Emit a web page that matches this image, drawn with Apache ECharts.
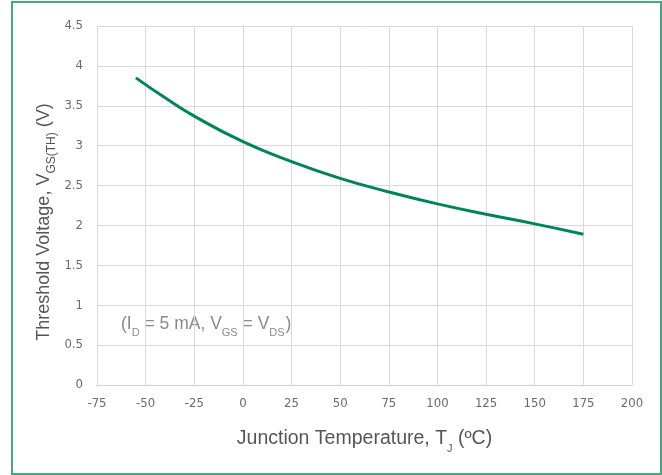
<!DOCTYPE html>
<html><head><meta charset="utf-8">
<script src="https://cdn.jsdelivr.net/npm/echarts@6/dist/echarts.min.js"></script>
<style>
html,body{margin:0;padding:0;background:#fff;}
#frame{position:absolute;left:11px;top:1px;width:647px;height:470px;border:2px solid #45a97c;}
#c{position:absolute;left:0;top:0;width:662px;height:475px;}
</style></head><body>
<div id="frame"></div>
<div id="c"></div>
<script>
const temps = [-55, -40, -25, 0, 25, 50, 75, 100, 125, 150, 175];
const vth = [3.85, 3.60, 3.37, 3.05, 2.80, 2.59, 2.42, 2.27, 2.14, 2.02, 1.89];
const xTicks = {min: -75, max: 200, interval: 25};
const yTicks = {min: 0, max: 4.5, interval: 0.5};

const chart = echarts.init(document.getElementById('c'));
const tickFont = 'DejaVu Sans Condensed, Liberation Sans Narrow, Roboto, sans-serif';
const nameFont = 'Liberation Sans, Arial, sans-serif';
chart.setOption({
  animation: false,
  grid: {left: 97, right: 30, top: 26, bottom: 90},
  xAxis: {
    type: 'value', min: xTicks.min, max: xTicks.max, interval: xTicks.interval,
    axisLine: {show: true, lineStyle: {color: '#d0d0d0'}},
    axisTick: {show: false},
    splitLine: {show: true, lineStyle: {color: '#d9d9d9', width: 1}},
    axisLabel: {color: '#6a6a6a', fontSize: 13, fontFamily: tickFont, margin: 12},
    name: '{n|Junction Temperature, T}{s|J}{n| (ºC)}',
    nameLocation: 'middle', nameGap: 44,
    nameTextStyle: {
      rich: {
        n: {fontSize: 19.5, color: '#555', fontFamily: nameFont},
        s: {fontSize: 11, color: '#555', fontFamily: nameFont, verticalAlign: 'bottom', padding: [0,0,-5,0]}
      }
    }
  },
  yAxis: {
    type: 'value', min: yTicks.min, max: yTicks.max, interval: yTicks.interval,
    axisLine: {show: true, lineStyle: {color: '#d9d9d9'}},
    axisTick: {show: false},
    splitLine: {show: true, lineStyle: {color: '#d9d9d9', width: 1}},
    axisLabel: {color: '#6a6a6a', fontSize: 13, fontFamily: tickFont, margin: 14}
  },
  graphic: [{
    type: 'text', x: 44, y: 222, rotation: Math.PI / 2,
    style: {
      text: '{n|Threshold Voltage, V}{s|GS(TH)}{n| (V)}',
      align: 'center', verticalAlign: 'middle',
      rich: {
        n: {fontSize: 18, fill: '#555', fontFamily: nameFont},
        s: {fontSize: 12, fill: '#555', fontFamily: nameFont, verticalAlign: 'bottom', padding: [0,0,-5,0]}
      }
    }
  }, {
    type: 'text', left: 121, top: 315,
    style: {
      text: '{n|(I}{s|D}{n| = 5 mA, V}{s|GS}{n| = V}{s|DS}{p|)}',
      rich: {
        n: {fontSize: 17.5, fill: '#8a8a8a', fontFamily: nameFont},
        p: {fontSize: 17.5, fill: '#8a8a8a', fontFamily: nameFont, padding: [0,0,0,1]},
        s: {fontSize: 11, fill: '#8a8a8a', fontFamily: nameFont, verticalAlign: 'bottom', padding: [0,0,-5,0]}
      }
    }
  }],
  series: [{
    type: 'line', smooth: true, showSymbol: false,
    data: temps.map((t, i) => [t, vth[i]]),
    lineStyle: {color: '#00845a', width: 3}
  }]
});
</script>
</body></html>
